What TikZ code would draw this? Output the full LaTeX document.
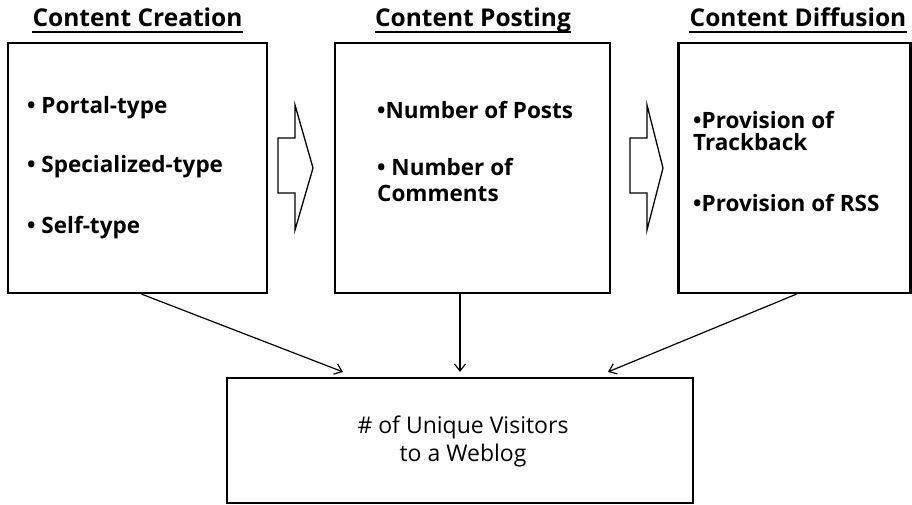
\documentclass[tikz,border=0pt]{standalone}
\usepackage{fontspec}
\setmainfont{Open Sans}
\usetikzlibrary{arrows.meta,calc}
\begin{document}
\begin{tikzpicture}[x=1pt,y=-1pt,
  box/.style={draw,line width=2.2pt,inner sep=0pt},
  title/.style={font=\fontsize{24.5}{28}\selectfont\bfseries,anchor=base,inner sep=0pt},
  uline/.style={line width=1.3pt},
  item/.style={anchor=west,font=\fontsize{22.5}{22}\selectfont\bfseries,inner sep=0pt,align=left},
  conn/.style={line width=1.2pt,-{Straight Barb[length=7pt,width=11pt,line width=1.2pt]}},
  blockarrow/.style={draw,line width=1.3pt,line join=miter}]
\useasboundingbox (0,0) rectangle (912,505);
% boxes
\node[box,minimum width=259pt,minimum height=250pt] (b1) at (137.5,168) {};
\node[box,minimum width=275pt,minimum height=250pt] (b2) at (472.5,168) {};
\node[box,minimum width=232pt,minimum height=250pt] (b3) at (794.5,168) {};
\node[box,minimum width=466pt,minimum height=125pt] (b4) at (460,440.5) {};
% titles
\node[title] (t1) at (137.5,27) {Content Creation};
\node[title] (t2) at (473,27) {Content Posting};
\node[title] (t3) at (798,27) {Content Diffusion};
\foreach \t in {t1,t2,t3}
  \draw[uline] ($(\t.base west)+(0,5)$) -- ($(\t.base east)+(0,5)$);
% items
\node[item] (i1) at (27,108) {\textbullet\ Portal-type};
\node[item] (i2) at (27,167) {\textbullet\ Specialized-type};
\node[item] (i3) at (27,228) {\textbullet\ Self-type};
\node[item] (i4) at (377,110) {\textbullet Number of Posts};
\node[item,font=\fontsize{22.5}{26}\selectfont\bfseries] (i5) at (377,180) {\textbullet\ Number of\\Comments};
\node[item] (i6) at (693,131) {\textbullet Provision of\\Trackback};
\node[item] (i7) at (693,203) {\textbullet Provision of RSS};
\node[font=\fontsize{23}{28}\selectfont,align=center] (i8) at (463,441) {\# of Unique Visitors\\to a Weblog};
% block arrows
\draw[blockarrow] (278,138) -- (295,138) -- (295,105) -- (313,168) -- (295,230) -- (295,193) -- (278,193) -- cycle;
\draw[blockarrow] (630,138) -- (647,138) -- (647,105) -- (663,168) -- (647,230) -- (647,193) -- (630,193) -- cycle;
% connectors
\draw[conn] ($(b1.south)+(4,0)$) -- ($(b4.north)+(-117,-5)$);
\draw[conn] (b2.south -| b4.north) -- ($(b4.north)+(0,-5)$);
\draw[conn] ($(b3.south)+(2,0)$) -- ($(b4.north)+(148,-5)$);
\end{tikzpicture}
\end{document}
